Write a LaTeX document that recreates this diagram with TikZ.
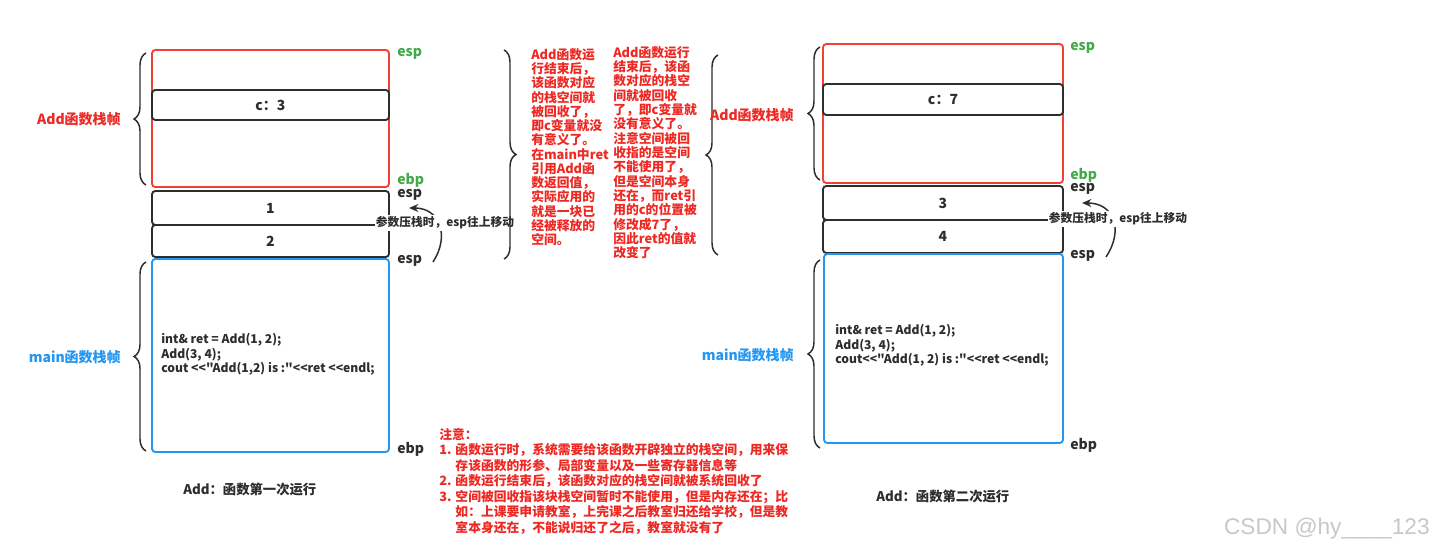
\documentclass[tikz,border=0pt]{standalone}
\usepackage{fontspec}
\setmainfont{Noto Sans CJK SC}
\newfontfamily\codefont{Noto Sans CJK SC}
\newfontfamily\wmfont{Liberation Sans}
\usetikzlibrary{fit,decorations.pathreplacing,arrows.meta}
\definecolor{boxred}{RGB}{240,65,55}
\definecolor{txtred}{RGB}{238,40,35}
\definecolor{espgreen}{RGB}{67,170,75}
\definecolor{boxblue}{RGB}{33,150,243}
\definecolor{dark}{RGB}{45,45,45}
\definecolor{wmgray}{RGB}{200,200,200}
\begin{document}
\begin{tikzpicture}[x=0.75pt,y=-0.75pt,
  frame/.style={draw, line width=1.4pt, rounded corners=2.5pt, inner sep=0pt, fill=white},
  redframe/.style={frame, draw=boxred},
  blueframe/.style={frame, draw=boxblue},
  cellbox/.style={frame, draw=dark},
  celltext/.style={font=\bfseries\fontsize{10.5}{12}\selectfont, text=dark, inner sep=0pt},
  reg/.style={font=\bfseries\fontsize{10.5}{12}\selectfont, anchor=west, inner sep=0pt},
  greenreg/.style={reg, text=espgreen},
  darkreg/.style={reg, text=dark},
  framelabel/.style={font=\bfseries\fontsize{10.5}{12}\selectfont, anchor=east, inner sep=0pt},
  bracedraw/.style={draw=dark, line width=1.1pt, decorate, decoration={brace, amplitude=9pt}},
  codetext/.style={font=\codefont\bfseries\fontsize{9.1}{10.9}\selectfont, text=dark, align=left, anchor=north west, inner sep=0pt},
  notetext/.style={font=\bfseries\fontsize{9.6}{10.75}\selectfont, text=txtred, align=left, anchor=north west, inner sep=0pt},
  caption/.style={font=\bfseries\fontsize{10}{12}\selectfont, text=dark, anchor=west, inner sep=0pt},
  pusharrow/.style={draw=dark, line width=1.1pt, -{Stealth[length=7pt,width=6pt]}},
  pushlabel/.style={font=\bfseries\fontsize{8.8}{10}\selectfont, text=dark, fill=white, inner sep=1pt}
]
\path[use as bounding box, fill=white] (0,0) rectangle (1435,556);

% ---------------- left stack (first run) ----------------
\node[redframe, fit={(152,50) (389,187)}] (addL) {};
\node[cellbox, fit={(152,90) (389,120)}] (cL) {};
\node[celltext] (cLt) at (cL.center) {c：3};
\node[cellbox, fit={(152,191) (389,225)}] (p1) {};
\node[celltext] (p1t) at (p1.center) {1};
\node[cellbox, fit={(152,225) (389,257)}] (p2) {};
\node[celltext] (p2t) at (p2.center) {2};
\node[blueframe, fit={(152,259) (389,452)}] (mainL) {};
\node[codetext] (codeL) at (161,333) {int\& ret = Add(1, 2);\\Add(3, 4);\\cout <{}<"Add(1,2) is :"<{}<ret <{}<endl;};

\node[greenreg] (espL1) at (397,54) {esp};
\node[greenreg] (ebpL1) at (397,180) {ebp};
\node[darkreg] (espL2) at (397,195) {esp};
\node[darkreg] (espL3) at (397,261) {esp};
\node[darkreg] (ebpL2) at (397,449) {ebp};

\draw[bracedraw] (146,185) -- (146,53);
\draw[bracedraw] (146,451) -- (146,262);
\node[framelabel, text=txtred] (addLbl) at (121,119) {Add函数栈帧};
\node[framelabel, text=boxblue] (mainLbl) at (121,357) {main函数栈帧};

\coordinate (a1s) at (433,262);
\coordinate (a1e) at (409,208);
\draw[pusharrow] (a1s) .. controls (450,236) and (440,208) .. (a1e);
\node[pushlabel] (push1) at (445,223) {参数压栈时，esp往上移动};

\node[caption] (capL) at (183,489) {Add：函数第一次运行};

% ---------------- middle explanations ----------------
\draw[bracedraw] (504,50) -- (504,259);
\node[notetext, font=\bfseries\fontsize{9.6}{10.7}\selectfont] (expl1) at (531,48) {Add函数运\\行结束后，\\该函数对应\\的栈空间就\\被回收了，\\即c变量就没\\有意义了。\\在main中ret\\引用Add函\\数返回值，\\实际应用的\\就是一块已\\经被释放的\\空间。};
\node[notetext, font=\bfseries\fontsize{9.6}{10.75}\selectfont] (expl2) at (613,46) {Add函数运行\\结束后，该函\\数对应的栈空\\间就被回收\\了，即c变量就\\没有意义了。\\注意空间被回\\收指的是空间\\不能使用了，\\但是空间本身\\还在，而ret引\\用的c的位置被\\修改成7了，\\因此ret的值就\\改变了};
\draw[bracedraw] (718,255) -- (718,55);

% ---------------- right stack (second run) ----------------
\node[redframe, fit={(823,44) (1063,183)}] (addR) {};
\node[cellbox, fit={(823,84) (1063,115)}] (cR) {};
\node[celltext] (cRt) at (cR.center) {c：7};
\node[cellbox, fit={(823,186) (1063,220)}] (p3) {};
\node[celltext] (p3t) at (p3.center) {3};
\node[cellbox, fit={(823,220) (1063,253)}] (p4) {};
\node[celltext] (p4t) at (p4.center) {4};
\node[blueframe, fit={(824,254) (1063,443)}] (mainR) {};
\node[codetext] (codeR) at (835,324) {int\& ret = Add(1, 2);\\Add(3, 4);\\cout<{}<"Add(1, 2) is :"<{}<ret <{}<endl;};

\node[greenreg] (espR1) at (1070,48) {esp};
\node[greenreg] (ebpR1) at (1070,175) {ebp};
\node[darkreg] (espR2) at (1070,189) {esp};
\node[darkreg] (espR3) at (1070,256) {esp};
\node[darkreg] (ebpR2) at (1070,445) {ebp};

\draw[bracedraw] (820,180) -- (820,47);
\draw[bracedraw] (820,448) -- (820,260);
\node[framelabel, text=txtred] (addRlbl) at (794,115) {Add函数栈帧};
\node[framelabel, text=boxblue] (mainRlbl) at (794,355) {main函数栈帧};

\coordinate (a2s) at (1106,257);
\coordinate (a2e) at (1082,203);
\draw[pusharrow] (a2s) .. controls (1124,230) and (1114,203) .. (a2e);
\node[pushlabel] (push2) at (1118,219) {参数压栈时，esp往上移动};

\node[caption] (capR) at (876,496) {Add：函数第二次运行};

% ---------------- bottom note ----------------
\node[notetext, font=\bfseries\fontsize{9.6}{11.6}\selectfont] (note) at (439,428) {注意：\\1. 函数运行时，系统需要给该函数开辟独立的栈空间，用来保\\\phantom{1. }存该函数的形参、局部变量以及一些寄存器信息等\\2. 函数运行结束后，该函数对应的栈空间就被系统回收了\\3. 空间被回收指该块栈空间暂时不能使用，但是内存还在；比\\\phantom{3. }如：上课要申请教室，上完课之后教室归还给学校，但是教\\\phantom{3. }室本身还在，不能说归还了之后，教室就没有了};

\node[font=\wmfont\fontsize{17}{20}\selectfont, text=wmgray, anchor=east, inner sep=0pt] (wm) at (1430,529) {CSDN @hy\_\_\_\_123};
\end{tikzpicture}
\end{document}
